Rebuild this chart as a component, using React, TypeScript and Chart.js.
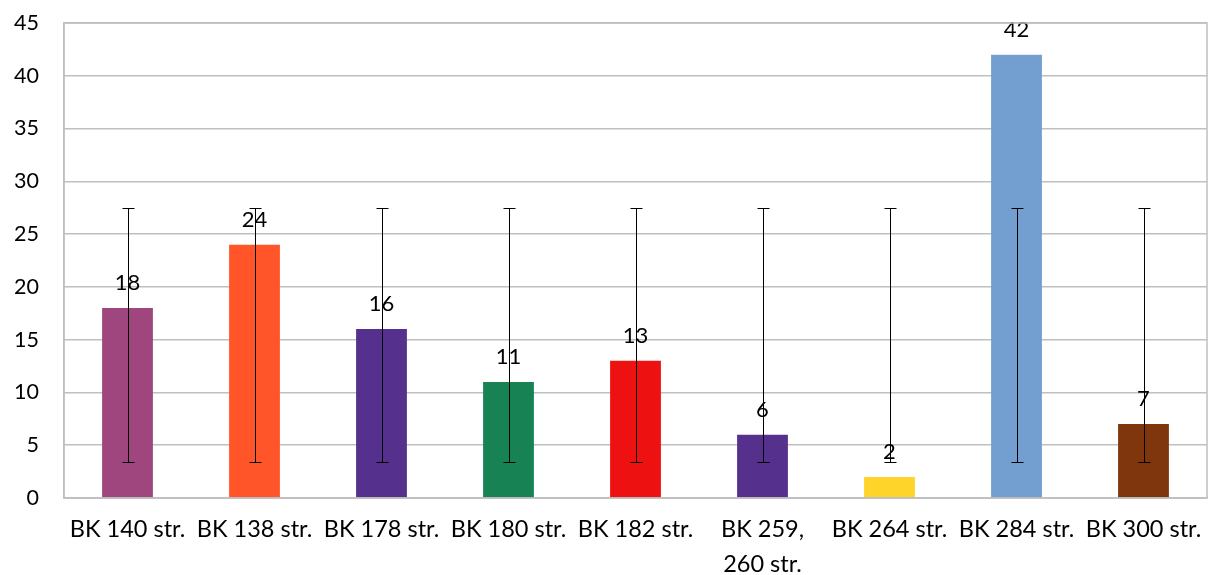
import React, { useEffect, useRef } from "react";
import { Chart, registerables } from "chart.js";

Chart.register(...registerables);

const categories: (string | string[])[] = [
  "BK 140 str.",
  "BK 138 str.",
  "BK 178 str.",
  "BK 180 str.",
  "BK 182 str.",
  ["BK 259,", "260 str."],
  "BK 264 str.",
  "BK 284 str.",
  "BK 300 str.",
];
const values = [18, 24, 16, 11, 13, 6, 2, 42, 7];
const errLow = [3.45, 3.45, 3.45, 3.45, 3.45, 3.45, 3.45, 3.45, 3.45];
const errHigh = [27.45, 27.45, 27.45, 27.45, 27.45, 27.45, 27.45, 27.45, 27.45];
const colors = [
  "#A0467E",
  "#FF5529",
  "#55308D",
  "#178254",
  "#EE1111",
  "#55308D",
  "#FFD42A",
  "#729FCF",
  "#7F360C",
];

const FONT = "Lato, 'Open Sans', sans-serif";

const plotPlugin = {
  id: "extras",
  afterDatasetsDraw(chart: any) {
    const { ctx, chartArea, scales } = chart;
    const meta = chart.getDatasetMeta(0);
    ctx.save();
    // data labels
    ctx.fillStyle = "#000";
    ctx.font = `22px ${FONT}`;
    ctx.textAlign = "center";
    ctx.textBaseline = "alphabetic";
    meta.data.forEach((bar: any, i: number) => {
      ctx.fillText(String(values[i]), bar.x, bar.y - 18);
    });
    // error bars
    ctx.strokeStyle = "#000";
    ctx.lineWidth = 1;
    meta.data.forEach((bar: any, i: number) => {
      const x = Math.round(bar.x) + 0.5;
      const yTop = Math.round(scales.y.getPixelForValue(errHigh[i])) + 0.5;
      const yBot = Math.round(scales.y.getPixelForValue(errLow[i])) + 0.5;
      ctx.beginPath();
      ctx.moveTo(x, yTop);
      ctx.lineTo(x, yBot);
      ctx.moveTo(x - 6, yTop);
      ctx.lineTo(x + 6, yTop);
      ctx.moveTo(x - 6, yBot);
      ctx.lineTo(x + 6, yBot);
      ctx.stroke();
    });
    // plot area border
    ctx.strokeStyle = "#BFBFBF";
    ctx.lineWidth = 1.5;
    ctx.strokeRect(
      chartArea.left,
      chartArea.top,
      chartArea.right - chartArea.left,
      chartArea.bottom - chartArea.top
    );
    ctx.restore();
  },
};

export default function App() {
  const ref = useRef<HTMLCanvasElement | null>(null);
  useEffect(() => {
    if (!ref.current) return;
    const chart = new Chart(ref.current, {
      type: "bar",
      data: {
        labels: categories as any,
        datasets: [
          {
            data: values,
            backgroundColor: colors,
            borderWidth: 0,
            barPercentage: 0.4,
            categoryPercentage: 1,
          },
        ],
      },
      options: {
        responsive: false,
        animation: false,
        layout: { padding: { top: 23, right: 8, left: 0, bottom: 0 } },
        plugins: {
          legend: { display: false },
          tooltip: { enabled: false },
        },
        scales: {
          x: {
            grid: { display: false, drawTicks: false },
            border: { display: true, color: "#BFBFBF", width: 1.5 },
            ticks: {
              color: "#000",
              font: { family: FONT, size: 23.5, lineHeight: 1.5 },
              padding: 14,
              maxRotation: 0,
              autoSkip: false,
            },
            afterFit: (s: any) => {
              s.height = 77;
              s.paddingLeft = 0;
              s.paddingRight = 0;
            },
          },
          y: {
            min: 0,
            max: 45,
            grid: { color: "#BFBFBF", lineWidth: 1.5, drawTicks: false },
            border: { display: true, color: "#BFBFBF", width: 1.5 },
            ticks: {
              stepSize: 5,
              color: "#000",
              font: { family: FONT, size: 21.5 },
              padding: 25,
            },
            afterFit: (s: any) => {
              s.width = 64;
              s.paddingTop = 0;
              s.paddingBottom = 0;
            },
          },
        },
      },
      plugins: [plotPlugin],
    });
    return () => chart.destroy();
  }, []);
  return (
    <div style={{ position: "absolute", left: 0, top: 0, width: 1215, height: 575, background: "#fff" }}>
      <canvas ref={ref} width={1215} height={575} style={{ width: 1215, height: 575 }} />
    </div>
  );
}
